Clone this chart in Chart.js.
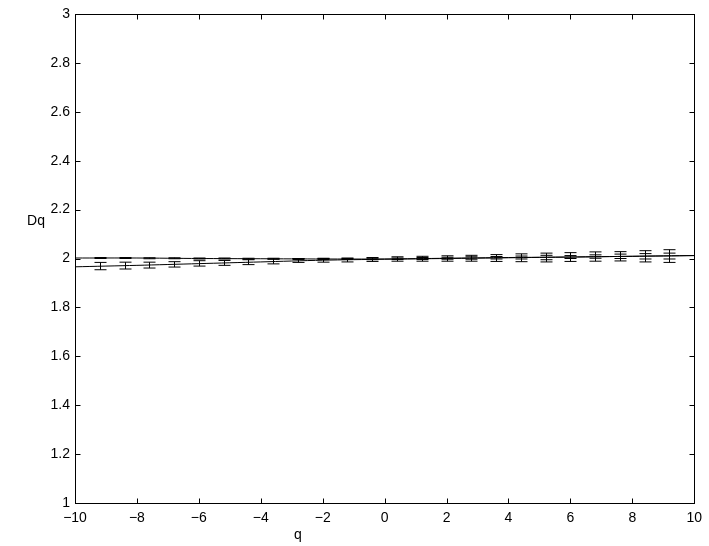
<!DOCTYPE html>
<html>
<head>
<meta charset="utf-8">
<script src="https://cdn.jsdelivr.net/npm/chart.js@4.4.1/dist/chart.umd.min.js"></script>
<style>
  html, body { margin: 0; padding: 0; background: #fff; }
  #chart-container { width: 709px; height: 546px; }
</style>
</head>
<body>
<div id="chart-container"><canvas id="dqChart" width="709" height="546"></canvas></div>
<script>
// error bar positions
const qBars = [-9.2, -8.4, -7.6, -6.8, -6.0, -5.2, -4.4, -3.6, -2.8, -2.0, -1.2, -0.4,
               0.4, 1.2, 2.0, 2.8, 3.6, 4.4, 5.2, 6.0, 6.8, 7.6, 8.4, 9.2];

// lower series at negative q (wider bars)
const dqLower = [1.969, 1.971, 1.973, 1.976, 1.980, 1.982, 1.985, 1.988, 1.992, 1.993, 1.994, 1.996,
                 1.998, 1.999, 2.000, 2.001, 2.002, 2.003, 2.004, 2.006, 2.008, 2.009, 2.009, 2.010];
const errLower = [0.015, 0.014, 0.012, 0.011, 0.011, 0.010, 0.010, 0.010, 0.008, 0.008, 0.008, 0.008,
                  0.009, 0.010, 0.011, 0.012, 0.014, 0.016, 0.018, 0.018, 0.019, 0.019, 0.023, 0.026];

// upper series at negative q (narrow bars)
const dqUpper = [2.002, 2.002, 2.001, 2.001, 2.000, 2.000, 1.999, 1.999, 1.998, 1.998, 1.998, 1.998,
                 1.999, 2.000, 2.001, 2.002, 2.003, 2.004, 2.004, 2.006, 2.008, 2.009, 2.009, 2.010];
const errUpper = [0.002, 0.002, 0.002, 0.002, 0.002, 0.002, 0.002, 0.002, 0.002, 0.002, 0.002, 0.003,
                  0.003, 0.004, 0.004, 0.005, 0.005, 0.006, 0.009, 0.006, 0.007, 0.009, 0.011, 0.012];

// the two curves
const qLine = [-10, -8, -6, -4, -2, 0, 2, 4, 6, 8, 10];
const lineLower = [1.966, 1.972, 1.979, 1.986, 1.993, 1.997, 2.000, 2.003, 2.006, 2.009, 2.012];
const lineUpper = [2.002, 2.002, 2.000, 1.999, 1.998, 1.998, 2.001, 2.004, 2.006, 2.009, 2.012];

const xTicks = [-10, -8, -6, -4, -2, 0, 2, 4, 6, 8, 10];
const yTicks = [1, 1.2, 1.4, 1.6, 1.8, 2, 2.2, 2.4, 2.6, 2.8, 3];

const FONT = '"Liberation Sans", Arial, Helvetica, sans-serif';

function toPoints(xs, ys) {
    return xs.map((x, i) => ({ x: x, y: ys[i] }));
}

// draws the vertical bars with caps from dataset.errors
const errorBarPlugin = {
    id: "errorBars",
    afterDatasetsDraw(chart) {
        const ctx = chart.ctx;
        const xs = chart.scales.x, ys = chart.scales.y;
        ctx.save();
        ctx.strokeStyle = "#000";
        ctx.lineWidth = 1;
        chart.data.datasets.forEach(ds => {
            if (!ds.errors) return;
            ds.data.forEach((p, i) => {
                const e = ds.errors[i];
                const x = Math.round(xs.getPixelForValue(p.x)) + 0.5;
                const y1 = ys.getPixelForValue(p.y - e);
                const y2 = ys.getPixelForValue(p.y + e);
                ctx.beginPath();
                ctx.moveTo(x, y1);
                ctx.lineTo(x, y2);
                ctx.moveTo(x - 6, y1);
                ctx.lineTo(x + 6, y1);
                ctx.moveTo(x - 6, y2);
                ctx.lineTo(x + 6, y2);
                ctx.stroke();
            });
        });
        ctx.restore();
    }
};

// box around the axes with inward ticks on all four sides, plus axis labels
const framePlugin = {
    id: "frame",
    afterDraw(chart) {
        const ctx = chart.ctx;
        const a = chart.chartArea;
        const xs = chart.scales.x, ys = chart.scales.y;
        const L = Math.round(a.left) + 0.5, R = Math.round(a.right) + 0.5;
        const T = Math.round(a.top) + 0.5, B = Math.round(a.bottom) + 0.5;
        const tl = 5;
        ctx.save();
        ctx.strokeStyle = "#000";
        ctx.lineWidth = 1;
        ctx.strokeRect(L, T, R - L, B - T);
        ctx.beginPath();
        xTicks.forEach(v => {
            const x = Math.round(xs.getPixelForValue(v)) + 0.5;
            ctx.moveTo(x, B); ctx.lineTo(x, B - tl);
            ctx.moveTo(x, T); ctx.lineTo(x, T + tl);
        });
        yTicks.forEach(v => {
            const y = Math.round(ys.getPixelForValue(v)) + 0.5;
            ctx.moveTo(L, y); ctx.lineTo(L + tl, y);
            ctx.moveTo(R, y); ctx.lineTo(R - tl, y);
        });
        ctx.stroke();

        ctx.fillStyle = "#000";
        ctx.font = "14px " + FONT;
        ctx.textAlign = "center";
        ctx.textBaseline = "alphabetic";
        ctx.fillText("q", 298, 539);
        ctx.fillText("Dq", 36, 225);
        ctx.restore();
    }
};

const ctx = document.getElementById("dqChart").getContext("2d");

new Chart(ctx, {
    type: "scatter",
    data: {
        datasets: [
            {
                label: "upper curve",
                data: toPoints(qLine, lineUpper),
                showLine: true,
                borderColor: "#000",
                borderWidth: 1,
                pointRadius: 0,
                tension: 0.3
            },
            {
                label: "lower curve",
                data: toPoints(qLine, lineLower),
                showLine: true,
                borderColor: "#000",
                borderWidth: 1,
                pointRadius: 0,
                tension: 0.3
            },
            {
                label: "upper estimates",
                data: toPoints(qBars, dqUpper),
                errors: errUpper,
                pointRadius: 0
            },
            {
                label: "lower estimates",
                data: toPoints(qBars, dqLower),
                errors: errLower,
                pointRadius: 0
            }
        ]
    },
    options: {
        responsive: false,
        animation: false,
        devicePixelRatio: 1,
        layout: { padding: { left: 0, right: 14, top: 14, bottom: 0 } },
        plugins: {
            legend: { display: false },
            tooltip: { enabled: false }
        },
        scales: {
            x: {
                type: "linear",
                min: -10,
                max: 10,
                grid: { display: false, drawTicks: false },
                border: { display: false },
                afterBuildTicks: axis => { axis.ticks = xTicks.map(v => ({ value: v })); },
                afterFit: axis => { axis.height = 43; },
                ticks: {
                    padding: 7,
                    color: "#000",
                    font: { family: FONT, size: 14 },
                    callback: v => String(v).replace("-", "\u2212")
                }
            },
            y: {
                type: "linear",
                min: 1,
                max: 3,
                grid: { display: false, drawTicks: false },
                border: { display: false },
                afterBuildTicks: axis => { axis.ticks = yTicks.map(v => ({ value: v })); },
                afterFit: axis => { axis.width = 75; },
                ticks: {
                    padding: 5,
                    color: "#000",
                    font: { family: FONT, size: 14 },
                    callback: v => String(Number(v.toFixed(1)))
                }
            }
        }
    },
    plugins: [errorBarPlugin, framePlugin]
});
</script>
</body>
</html>
